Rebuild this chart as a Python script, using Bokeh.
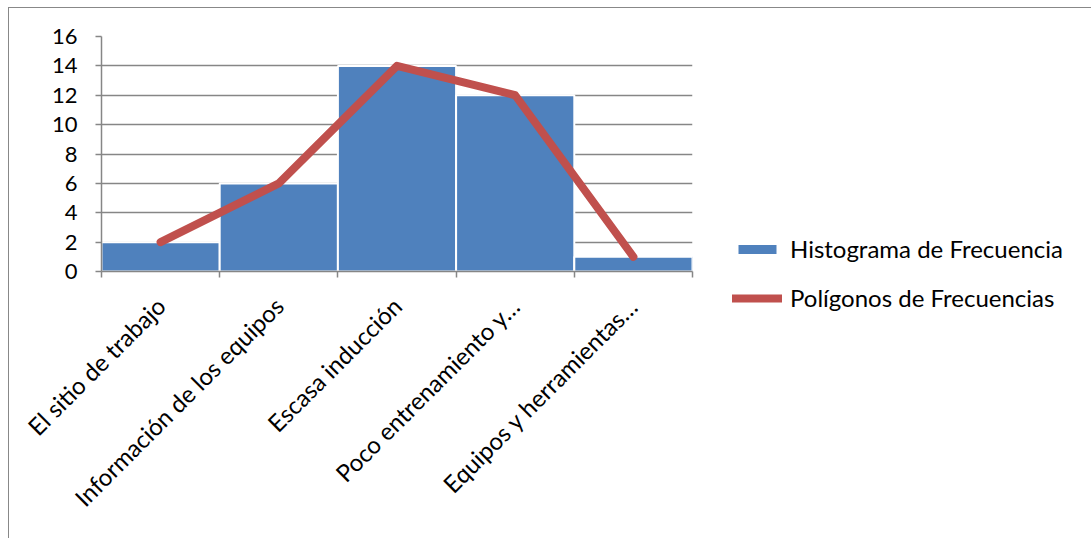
import math
from bokeh.plotting import figure
from bokeh.models import ColumnDataSource, FixedTicker, Legend, LegendItem
from bokeh.embed import file_html
from bokeh.resources import INLINE

categories = ["El sitio de trabajo", "Información de los equipos", "Escasa inducción",
              "Poco entrenamiento y…", "Equipos y herramientas…"]
hist_values = [2, 6, 14, 12, 1]
poly_values = [2, 6, 14, 12, 1]
y_ticks = [0, 2, 4, 6, 8, 10, 12, 14, 16]

FONT = "Lato"
centers = [i + 0.5 for i in range(len(categories))]
src = ColumnDataSource(dict(x=centers, h=hist_values, p=poly_values))

p = figure(width=1082, height=530, output_backend="svg", toolbar_location=None,
           x_range=(0, len(categories)), y_range=(0, 16),
           min_border_left=92, min_border_top=28, min_border_right=0, min_border_bottom=267)
p.frame_width = 591
p.frame_height = 235
p.margin = (7, 0, 0, 8)
p.styles = {"border-left": "1.5px solid #888888", "border-top": "1.5px solid #888888"}
p.outline_line_color = None
p.background_fill_color = "white"
p.border_fill_color = "white"

bars = p.vbar(x="x", top="h", width=1.0, source=src, fill_color="#4F81BD",
              line_color="white", line_width=2)
line = p.line(x="x", y="p", source=src, line_color="#C0504D", line_width=8,
              line_cap="round", line_join="round")

# y axis
p.yaxis.ticker = FixedTicker(ticks=y_ticks)
p.yaxis.axis_line_color = "#868686"
p.yaxis.axis_line_width = 1.5
p.yaxis.major_tick_line_color = "#868686"
p.yaxis.major_tick_line_width = 1.5
p.yaxis.major_tick_out = 6
p.yaxis.major_tick_in = 0
p.yaxis.minor_tick_line_color = None
p.yaxis.major_label_text_font = FONT
p.yaxis.major_label_text_font_size = "22px"
p.yaxis.major_label_text_color = "black"
p.yaxis.major_label_standoff = 18

# x axis
p.xaxis.ticker = FixedTicker(ticks=centers, minor_ticks=list(range(len(categories) + 1)))
p.xaxis.major_label_overrides = {c: lab for c, lab in zip(centers, categories)}
p.xaxis.major_label_orientation = math.pi / 4
p.xaxis.axis_line_color = "#868686"
p.xaxis.axis_line_width = 1.5
p.xaxis.major_tick_line_color = None
p.xaxis.minor_tick_line_color = "#868686"
p.xaxis.minor_tick_line_width = 1.5
p.xaxis.minor_tick_out = 6
p.xaxis.minor_tick_in = 0
p.xaxis.major_label_text_font = FONT
p.xaxis.major_label_text_font_size = "24px"
p.xaxis.major_label_text_color = "black"
p.xaxis.major_label_standoff = 24

p.xgrid.grid_line_color = None
p.ygrid.ticker = FixedTicker(ticks=y_ticks)
p.ygrid.grid_line_color = "#868686"
p.ygrid.grid_line_width = 1.5

legend = Legend(items=[LegendItem(label="Histograma de Frecuencia", renderers=[bars]),
                       LegendItem(label="Polígonos de Frecuencias", renderers=[line])],
                location=(40, -41), orientation="vertical")
legend.glyph_width = 50
legend.glyph_height = 14
legend.label_height = 28
legend.spacing = 20
legend.padding = 0
legend.margin = 0
legend.label_standoff = 8
legend.label_text_font = FONT
legend.label_text_font_size = "24px"
legend.label_text_color = "black"
legend.border_line_color = None
legend.background_fill_alpha = 0
p.add_layout(legend, "right")

open("out.html", "w").write(file_html(p, INLINE))
